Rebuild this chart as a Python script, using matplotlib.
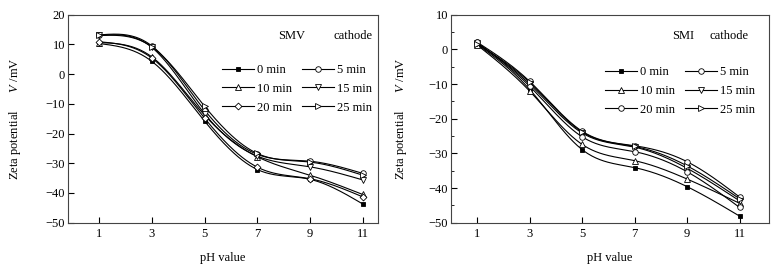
import numpy as np
import matplotlib
matplotlib.use('Agg')
import matplotlib.pyplot as plt

plt.rcParams['font.family'] = ['Liberation Serif', 'DejaVu Serif']
plt.rcParams['mathtext.fontset'] = 'custom'
plt.rcParams['mathtext.rm'] = 'Liberation Serif'
plt.rcParams['mathtext.it'] = 'Liberation Serif:italic'
plt.rcParams['font.size'] = 9

# -------------------- Data --------------------

ph = [1, 3, 5, 7, 9, 11]
labels = ['0 min', '5 min', '10 min', '15 min', '20 min', '25 min']

# SMV cathode (left)
smv_0 = [10.3, 4.3, -15.8, -32.1, -35.4, -43.7]
smv_5 = [13.2, 9.5, -12.1, -27.0, -29.3, -33.4]
smv_10 = [10.6, 5.8, -13.8, -27.8, -34.0, -40.5]
smv_15 = [13.0, 9.0, -13.3, -27.6, -31.2, -35.6]
smv_20 = [10.9, 5.4, -14.8, -31.3, -35.2, -41.3]
smv_25 = [13.0, 9.2, -10.8, -26.7, -29.6, -34.0]

# SMI cathode (right)
smi_0 = [1.5, -11.5, -28.9, -34.1, -39.6, -48.1]
smi_5 = [2.1, -9.2, -23.6, -27.8, -32.4, -42.6]
smi_10 = [1.3, -12.0, -27.4, -32.1, -37.4, -44.4]
smi_15 = [1.8, -10.0, -24.1, -28.2, -34.3, -43.7]
smi_20 = [2.0, -10.6, -25.2, -29.5, -35.3, -45.6]
smi_25 = [1.6, -9.5, -23.8, -28.0, -33.6, -43.1]

smv = [smv_0, smv_5, smv_10, smv_15, smv_20, smv_25]
smi = [smi_0, smi_5, smi_10, smi_15, smi_20, smi_25]

markers_left = ['s', 'o', '^', 'v', 'D', '>']
markers_right = ['s', 'o', '^', 'v', 'o', '>']


# -------------------- Natural cubic spline for smooth lines --------------------

def smooth(x, y, n=200):
    x = np.asarray(x, float)
    y = np.asarray(y, float)
    k = len(x)
    h = np.diff(x)
    A = np.zeros((k, k))
    b = np.zeros(k)
    A[0, 0] = A[-1, -1] = 1
    for i in range(1, k - 1):
        A[i, i - 1] = h[i - 1]
        A[i, i] = 2 * (h[i - 1] + h[i])
        A[i, i + 1] = h[i]
        b[i] = 6 * ((y[i + 1] - y[i]) / h[i] - (y[i] - y[i - 1]) / h[i - 1])
    M = np.linalg.solve(A, b)
    xs = np.linspace(x[0], x[-1], n)
    j = np.clip(np.searchsorted(x, xs) - 1, 0, k - 2)
    t1 = x[j + 1] - xs
    t0 = xs - x[j]
    hj = h[j]
    ys = (M[j] * t1**3 + M[j + 1] * t0**3) / (6 * hj) \
        + (y[j] / hj - M[j] * hj / 6) * t1 + (y[j + 1] / hj - M[j + 1] * hj / 6) * t0
    return xs, ys


# -------------------- Plots --------------------

fig = plt.figure(figsize=(7.84, 2.64), dpi=100)
W, H = 784, 264
ax1 = fig.add_axes([68 / W, 1 - 222.7 / H, 310 / W, 208 / H])
ax2 = fig.add_axes([451 / W, 1 - 222.7 / H, 318 / W, 208 / H])


def draw(ax, series, markers, xlim, ylim, yticks):
    handles = []
    for vals, mk, lab in zip(series, markers, labels):
        xs, ys = smooth(ph, vals)
        ax.plot(xs, ys, color='black', lw=0.8)
        fc = 'black' if mk == 's' else 'white'
        ms = 3.5 if mk in ('s', 'D') else 4
        ax.plot(ph, vals, ls='none', marker=mk, ms=ms, mfc=fc, mec='black', mew=0.6)
        h, = ax.plot([], [], color='black', lw=0.8, marker=mk, ms=ms, mfc=fc,
                     mec='black', mew=0.6, label=lab)
        handles.append(h)
    ax.set_xlim(*xlim)
    ax.set_ylim(*ylim)
    ax.set_xticks(ph)
    ax.set_yticks(yticks)
    ax.tick_params(direction='in', length=4.5, width=0.8, pad=2)
    ax.tick_params(axis='x', pad=4)
    for s in ax.spines.values():
        s.set_linewidth(0.8)
        s.set_color('#444444')
    ax.set_xlabel('pH value')
    ax.set_ylabel('Zeta potential      $V$ /mV')
    # row-major legend order for a 2-column legend
    return [handles[i] for i in (0, 2, 4, 1, 3, 5)]


h1 = draw(ax1, smv, markers_left, (-0.18, 11.58), (-50, 20), np.arange(-50, 21, 10))
h2 = draw(ax2, smi, markers_right, (0.01, 12.12), (-50, 10), np.arange(-50, 11, 10))
ax2.set_yticks(np.arange(-45, 10, 10), minor=True)
ax2.tick_params(which='minor', direction='in', length=2.5, width=0.6)

ax1.yaxis.set_label_coords(-0.145, 0.5)
ax2.yaxis.set_label_coords(-0.132, 0.5)
ax1.xaxis.set_label_coords(0.5, -0.14)
ax2.xaxis.set_label_coords(0.5, -0.14)

leg_kw = dict(ncol=2, frameon=False, handlelength=2.55, handletextpad=0.25,
              columnspacing=0.8, labelspacing=0.55, borderpad=0, borderaxespad=0,
              loc='upper left')
ax1.legend(handles=h1, bbox_to_anchor=((222 - 68) / 310, 1 - (64 - 14.7) / 208), **leg_kw)
ax2.legend(handles=h2, bbox_to_anchor=((605 - 451) / 318, 1 - (66 - 14.7) / 208), **leg_kw)

ax1.text((278 - 68) / 310, 1 - (36 - 14.7) / 208, 'SMV', transform=ax1.transAxes,
         va='center', ha='left')
ax1.text((333 - 68) / 310, 1 - (36 - 14.7) / 208, 'cathode', transform=ax1.transAxes,
         va='center', ha='left')
ax2.text((672 - 451) / 318, 1 - (36 - 14.7) / 208, 'SMI', transform=ax2.transAxes,
         va='center', ha='left')
ax2.text((710 - 451) / 318, 1 - (36 - 14.7) / 208, 'cathode', transform=ax2.transAxes,
         va='center', ha='left')

fig.savefig('out.png', dpi=100)
